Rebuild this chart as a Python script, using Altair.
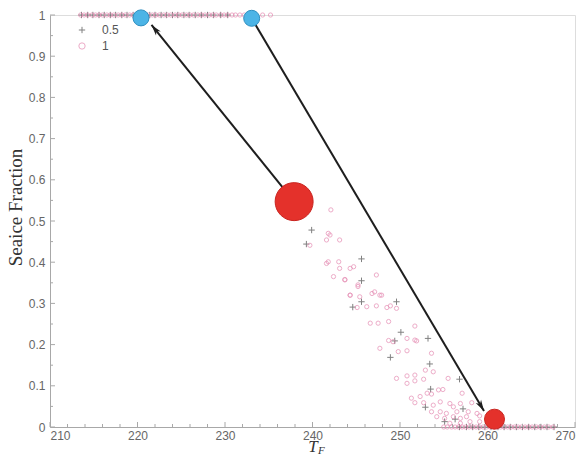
import math
import altair as alt
import pandas as pd

# ---- series "0.5" (plus markers) ----
plus_top_T = [213.6, 214.3, 214.9, 215.6, 216.2, 216.9, 217.5, 218.2, 218.8, 219.5,
              220.1, 221.4, 222.0, 222.7, 223.3, 224.0, 224.6, 225.3, 225.9, 226.6,
              227.3, 228.0, 228.7, 229.5, 230.3]
plus_mid_T = [239.9, 239.3, 245.6, 245.6, 245.6, 244.6, 249.6, 250.1, 249.4, 253.2,
              248.9, 253.4, 253.5, 256.8, 252.9, 257.2, 255.1, 256.3]
plus_mid_F = [0.478, 0.444, 0.408, 0.355, 0.304, 0.291, 0.304, 0.230, 0.209, 0.215,
              0.169, 0.153, 0.092, 0.116, 0.048, 0.044, 0.013, 0.019]
plus_bot_T = [256.8, 257.6, 258.3, 259.0, 259.7, 260.4, 261.2, 261.9, 262.6, 263.3,
              264.0, 264.7, 265.4, 266.1, 266.8, 267.6]

# ---- series "1" (open circles) ----
circ_top_T = [213.5, 213.9, 214.3, 214.8, 215.2, 215.6, 216.0, 216.5, 216.9, 217.3,
              217.8, 218.2, 218.6, 219.1, 219.5, 219.9, 220.4, 220.8, 221.2, 221.7,
              222.1, 222.5, 223.0, 223.4, 223.8, 224.3, 224.7, 225.1, 225.6, 226.0,
              226.4, 226.9, 227.3, 227.7, 228.2, 228.6, 229.0, 229.5, 229.9, 230.3,
              230.8, 231.2, 231.7, 232.2, 232.8, 233.5, 234.3, 235.2]
circ_mid_T = [242.1, 239.7, 241.8, 242.0, 241.6, 243.1, 241.6, 241.8, 243.0, 243.1,
              244.3, 244.7, 242.4, 243.7, 245.2, 247.3, 244.3, 245.4, 246.8, 247.1,
              247.7, 245.1, 246.2, 247.3, 248.5, 248.9, 249.6, 246.6, 247.5, 248.7,
              251.7, 248.7, 249.2, 250.8, 251.7, 247.7, 249.8, 250.8, 253.6, 252.9,
              253.8, 249.6, 250.8, 251.7, 250.8, 251.7, 252.7, 255.5, 254.4, 254.9,
              253.1, 253.6, 257.1, 251.3, 252.3, 251.7, 252.7, 253.8, 254.6, 255.7,
              256.1, 256.9, 258.2, 253.6, 254.6, 255.3, 256.5, 257.8, 258.8, 254.2,
              255.1, 256.1, 256.9, 257.6, 259.1, 255.7, 256.9, 258.0, 259.1, 243.7,
              245.2, 244.3, 247.9, 251.9]
circ_mid_F = [0.527, 0.441, 0.470, 0.466, 0.454, 0.454, 0.397, 0.401, 0.401, 0.385,
              0.385, 0.389, 0.365, 0.357, 0.341, 0.369, 0.320, 0.316, 0.324, 0.328,
              0.320, 0.290, 0.292, 0.294, 0.290, 0.294, 0.288, 0.252, 0.252, 0.256,
              0.245, 0.210, 0.207, 0.215, 0.211, 0.191, 0.183, 0.185, 0.179, 0.138,
              0.134, 0.118, 0.124, 0.126, 0.106, 0.112, 0.116, 0.118, 0.090, 0.091,
              0.082, 0.080, 0.082, 0.070, 0.074, 0.059, 0.059, 0.053, 0.061, 0.057,
              0.049, 0.057, 0.059, 0.037, 0.037, 0.033, 0.037, 0.037, 0.033, 0.025,
              0.021, 0.025, 0.021, 0.025, 0.027, 0.009, 0.009, 0.013, 0.013, 0.358,
              0.345, 0.320, 0.320, 0.209]
circ_bot_T = [255.0, 255.4, 255.9, 256.3, 256.7, 257.1, 257.5, 257.9, 258.3, 258.7,
              259.1, 259.5, 259.9, 260.3, 260.7, 261.1, 261.5, 261.9, 262.3, 262.7,
              263.1, 263.5, 263.9, 264.3, 264.7, 265.1, 265.6, 266.0, 266.5, 267.0,
              267.5]

# ---- highlighted states and transitions ----
blue_T = [220.4, 233.05]
blue_F = [0.993, 0.992]
red_T = [237.9, 260.8]
red_F = [0.547, 0.019]
red_size = [1444, 400]
arrow_from_T = [237.9, 233.05]
arrow_from_F = [0.547, 0.992]
arrow_to_T = [221.6, 259.6]
arrow_to_F = [0.976, 0.039]

# axis ticks
x_major = [210, 220, 230, 240, 250, 260, 270]
x_minor = [212, 214, 216, 218, 222, 224, 226, 228, 232, 234, 236, 238, 242, 244, 246,
           248, 252, 254, 256, 258, 262, 264, 266, 268]
y_major = [0, 0.1, 0.2, 0.3, 0.4, 0.5, 0.6, 0.7, 0.8, 0.9, 1]
y_minor = [0.05, 0.15, 0.25, 0.35, 0.45, 0.55, 0.65, 0.75, 0.85, 0.95]

W, H = 525, 412
X_DOM = [210, 270]
Y_DOM = [0, 1]

PLUS = "M-1,0L1,0M0,-1L0,1"
HEAD = "M0,0L0.45,1.6L0,1.15L-0.45,1.6Z"

rows = []
for t in plus_top_T:
    rows.append({"T": t, "F": 1.0, "run": "0.5"})
for t, f in zip(plus_mid_T, plus_mid_F):
    rows.append({"T": t, "F": f, "run": "0.5"})
for t in plus_bot_T:
    rows.append({"T": t, "F": 0.0, "run": "0.5"})
for t in circ_top_T:
    rows.append({"T": t, "F": 1.0, "run": "1"})
for t, f in zip(circ_mid_T, circ_mid_F):
    rows.append({"T": t, "F": f, "run": "1"})
for t in circ_bot_T:
    rows.append({"T": t, "F": 0.0, "run": "1"})
pts = pd.DataFrame(rows)
pts["sz"] = pts["run"].map({"0.5": 40, "1": 18})

xs = alt.Scale(domain=X_DOM, nice=False, zero=False)
ys = alt.Scale(domain=Y_DOM, nice=False, zero=False)

x_axis = alt.Axis(values=x_major, format="d", ticks=False, grid=False,
                  domainColor="#a8a8a8", labelColor="#666666", labelFont="Liberation Sans",
                  labelFontSize=12, labelPadding=3, title=None)
y_axis = alt.Axis(values=y_major, format="~g", ticks=False, grid=False,
                  domainColor="#a8a8a8", labelColor="#666666", labelFont="Liberation Sans",
                  labelFontSize=12, labelPadding=5, title="Seaice Fraction",
                  titleFont="Liberation Serif", titleFontSize=19, titleFontWeight="normal",
                  titleColor="#333333", titlePadding=3, titleY=192)

legend = alt.Legend(title=None, orient="none", legendX=26, legendY=9,
                    labelFont="Liberation Sans", labelFontSize=12,
                    labelColor="#555555", symbolSize=40, symbolStrokeWidth=1,
                    labelOffset=14, rowPadding=4, padding=0)

scatter = alt.Chart(pts).mark_point(filled=False, strokeWidth=1).encode(
    x=alt.X("T:Q", scale=xs, axis=x_axis),
    y=alt.Y("F:Q", scale=ys, axis=y_axis),
    shape=alt.Shape("run:N", scale=alt.Scale(domain=["0.5", "1"], range=[PLUS, "circle"]),
                    legend=legend),
    color=alt.Color("run:N", scale=alt.Scale(domain=["0.5", "1"], range=["#4d4d4d", "#e68ab2"]),
                    legend=legend),
    size=alt.Size("sz:Q", scale=None, legend=None),
)

# inward tick marks
def tick_rules(vals, axis, length):
    d = pd.DataFrame({"v": vals})
    if axis == "x":
        return alt.Chart(d).mark_rule(color="#a8a8a8", strokeWidth=1).encode(
            x=alt.X("v:Q", scale=xs), y=alt.value(H), y2=alt.value(H - length))
    return alt.Chart(d).mark_rule(color="#a8a8a8", strokeWidth=1).encode(
        y=alt.Y("v:Q", scale=ys), x=alt.value(0), x2=alt.value(length))

ticks = [tick_rules(x_major, "x", 5), tick_rules(x_minor, "x", 3),
         tick_rules(y_major, "y", 5), tick_rules(y_minor, "y", 3)]

# arrows: shaft + rotated head, head angle from on-screen direction
px_x = W / (X_DOM[1] - X_DOM[0])
px_y = H / (Y_DOM[1] - Y_DOM[0])
angles = []
for t0, f0, t1, f1 in zip(arrow_from_T, arrow_from_F, arrow_to_T, arrow_to_F):
    dx = (t1 - t0) * px_x
    dy = -(f1 - f0) * px_y
    angles.append(math.degrees(math.atan2(dx, -dy)) % 360)
arr = pd.DataFrame({"T0": arrow_from_T, "F0": arrow_from_F,
                    "T1": arrow_to_T, "F1": arrow_to_F, "ang": angles})

shafts = alt.Chart(arr).mark_rule(color="#1e1e1e", strokeWidth=2).encode(
    x=alt.X("T0:Q", scale=xs), y=alt.Y("F0:Q", scale=ys), x2="T1:Q", y2="F1:Q")
heads = alt.Chart(arr).mark_point(shape=HEAD, filled=True, color="#1e1e1e", opacity=1,
                                  size=190).encode(
    x=alt.X("T1:Q", scale=xs), y=alt.Y("F1:Q", scale=ys), angle=alt.Angle("ang:Q", scale=None))

blue = alt.Chart(pd.DataFrame({"T": blue_T, "F": blue_F})).mark_point(
    shape="circle", filled=True, fill="#4cb4e6", stroke="#2f8fc0", strokeWidth=1,
    opacity=1, size=256).encode(x=alt.X("T:Q", scale=xs), y=alt.Y("F:Q", scale=ys))
red = alt.Chart(pd.DataFrame({"T": red_T, "F": red_F, "s": red_size})).mark_point(
    shape="circle", filled=True, fill="#e4312b", stroke="#c9241f", strokeWidth=1,
    opacity=1).encode(x=alt.X("T:Q", scale=xs), y=alt.Y("F:Q", scale=ys),
                      size=alt.Size("s:Q", scale=None, legend=None))

# x-axis title T_F with subscript
t_main = alt.Chart(pd.DataFrame({"s": ["T"]})).mark_text(
    font="Liberation Serif", fontStyle="italic", fontSize=17, color="#333333",
    align="center", baseline="alphabetic").encode(
    text="s:N", x=alt.value(263), y=alt.value(437))
t_sub = alt.Chart(pd.DataFrame({"s": ["F"]})).mark_text(
    font="Liberation Serif", fontStyle="italic", fontSize=11, color="#333333",
    align="left", baseline="alphabetic").encode(
    text="s:N", x=alt.value(268), y=alt.value(439))

chart = alt.layer(scatter, *ticks, shafts, heads, blue, red, t_main, t_sub).properties(
    width=W, height=H, autosize="none",
    padding={"left": 50, "top": 15, "right": 6, "bottom": 30},
).configure_view(stroke=None).configure(background="white")

chart.save("out.html", embed_options={"renderer": "svg", "actions": False})
